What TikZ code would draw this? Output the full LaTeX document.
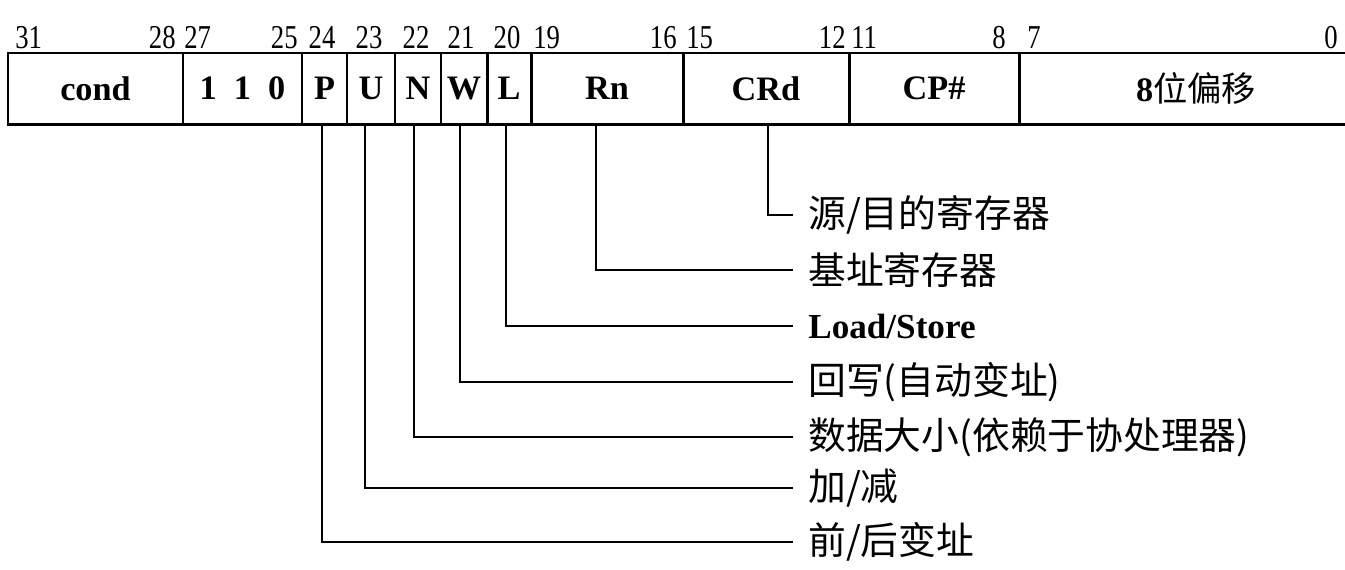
\documentclass[tikz,border=0pt]{standalone}
\usepackage{fontspec}
\setmainfont{Liberation Serif}
\newfontfamily\zhfont{Noto Sans CJK SC}
\newfontfamily\bitfont[FakeStretch=0.8]{Liberation Serif}
\usetikzlibrary{positioning}
\tikzset{
  bitno/.style = {inner sep=0pt, font=\bitfont\fontsize{19}{19}\selectfont},
  fieldtxt/.style = {inner sep=0pt, font=\fontsize{19.5}{19.5}\selectfont\bfseries},
  frame/.style = {line width=1.7pt},
  desc/.style = {anchor=west, inner sep=0pt, inner xsep=0.3cm,
                 font=\fontsize{21.5}{21.5}\selectfont},
  tie/.style = {line width=1.5pt}
}

\begin{document}
\begin{tikzpicture}[x=0.02cm,y=-0.02cm]
  \useasboundingbox (0,0) rectangle (1345,569);

  % bit positions
  \foreach \x/\v/\a in {15/31/base west, 176/28/base east, 184/27/base west,
    298/25/base east, 322/24/base, 369/23/base, 416/22/base, 461/21/base,
    507/20/base, 533/19/base west, 677/16/base east, 686/15/base west,
    846/12/base east, 851/11/base west, 1006/8/base east, 1027/7/base west,
    1338/0/base east}{
    \node[bitno, anchor=\a] (b\v) at (\x,48) {\v};
  }

  % instruction fields (last number: where the tie leaves the field)
  \foreach \a/\b/\txt/\n/\t in {8/183/cond/cond/95, 183/302/1~~1~~0/ones/242,
    302/347/P/P/322, 347/395/U/U/365, 395/441/N/N/414, 441/487/W/W/460,
    487/531/L/L/506, 531/683/Rn/Rn/596, 683/849/CRd/CRd/768, 849/1019/CP\#/CP/934}{
    \draw[frame] (\a,53) rectangle (\b,124);
    \node[fieldtxt] (\n) at ({(\a+\b)/2},88.5) {\txt};
    \coordinate (\n-b) at (\t,124);
  }
  \draw[frame] (1345,53) -- (1019,53) -- (1019,124) -- (1345,124);
  \node[fieldtxt] (offset) at (1196,88.5) {8{\zhfont\mdseries 位偏移}};

  % field meanings
  \foreach \f/\n/\y/\txt in {CRd/dst/215/{\zhfont 源/目的寄存器},
    Rn/base/270/{\zhfont 基址寄存器}, L/ls/326/{\fontsize{20}{20}\selectfont\bfseries Load/Store},
    W/wb/382/{\zhfont 回写(自动变址)}, N/size/437/{\zhfont 数据大小(依赖于协处理器)},
    U/updown/488/{\zhfont 加/减}, P/prepost/542/{\zhfont 前/后变址}}{
    \node[desc] (\n) at (793,\y) {\txt};
    \draw[tie] (\f-b) |- (\n.west);
  }
\end{tikzpicture}
\end{document}
